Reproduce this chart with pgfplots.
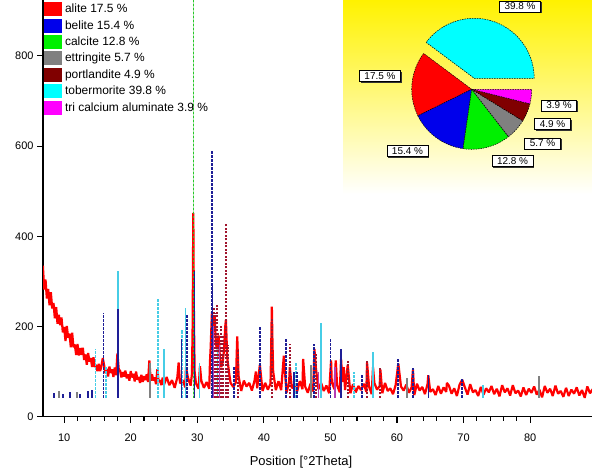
\documentclass[border=0pt]{standalone}
\usepackage{fontspec}
\setmainfont{Liberation Sans}
\usepackage{pgfplots}
\pgfplotsset{compat=1.18}
\usetikzlibrary{shadows}
\definecolor{ytop}{RGB}{255,242,0}
\definecolor{ymid}{RGB}{255,250,110}
\definecolor{navy}{RGB}{30,30,150}
\definecolor{stickcyan}{RGB}{70,205,230}
\definecolor{drk}{RGB}{160,20,45}
\definecolor{calcline}{RGB}{40,200,40}
\definecolor{calcpale}{RGB}{170,230,170}
\definecolor{pcyan}{RGB}{0,255,255}
\definecolor{pgreen}{RGB}{0,240,0}
\definecolor{pdark}{RGB}{128,0,0}
\definecolor{pmag}{RGB}{255,0,255}
\definecolor{pblue}{RGB}{0,0,235}
\definecolor{stickmag}{RGB}{180,60,180}
\begin{document}
\begin{tikzpicture}[x=1bp,y=1bp]
\useasboundingbox (0,0) rectangle (592,471);
\clip (0,0) rectangle (592,471);
\begin{axis}[
  at={(43bp,54.3bp)}, anchor=south west, scale only axis,
  width=549bp, height=416.7bp,
  xmin=6.82, xmax=89.3, ymin=0, ymax=924,
  axis x line*=bottom, axis y line*=left,
  axis line style={line width=1.6bp, black},
  xtick={10,20,30,40,50,60,70,80}, minor x tick num=4,
  ytick={0,200,400,600,800},
  tick align=outside, major tick length=6bp, minor tick length=4bp,
  tick style={black, line width=1.1bp},
  tick label style={font=\fontsize{11}{13}\selectfont},
  xticklabel style={yshift=-8bp},
  /pgf/number format/assume math mode=true,
  /pgf/number format/1000 sep={},
  xlabel={Position [°2Theta]},
  xlabel style={font=\fontsize{13}{15}\selectfont, at={(axis description cs:0.47,0)}, anchor=center, yshift=-45bp},
  unbounded coords=jump,
  legend style={at={(0,1)}, anchor=north west, xshift=1bp, yshift=-2bp, draw=none, fill=none,
    font=\fontsize{12}{14}\selectfont, inner sep=0pt, row sep=2.4bp, nodes={inner sep=0.4bp},
    /tikz/every odd column/.append style={column sep=2.5bp}},
  legend cell align=left,
  legend image code/.code={\fill[#1] (0bp,-7bp) rectangle (18bp,7bp);},
]
\addlegendimage{fill=red, draw=none}\addlegendentry{alite 17.5 \%}
\addlegendimage{fill=pblue, draw=none}\addlegendentry{belite 15.4 \%}
\addlegendimage{fill=pgreen, draw=none}\addlegendentry{calcite 12.8 \%}
\addlegendimage{fill=gray, draw=none}\addlegendentry{ettringite 5.7 \%}
\addlegendimage{fill=pdark, draw=none}\addlegendentry{portlandite 4.9 \%}
\addlegendimage{fill=pcyan, draw=none}\addlegendentry{tobermorite 39.8 \%}
\addlegendimage{fill=pmag, draw=none}\addlegendentry{tri calcium aluminate 3.9 \%}

% calcite main line (pale underlay)
\addplot[calcpale, line width=1.6bp, mark=none] coordinates {
(29.42,42) (29.42,924)
};

% measured pattern
\addplot[red, line width=2.2bp, mark=none, line join=bevel] coordinates {
(6.8,335) (7.0,282) (7.2,304) (7.4,262) (7.6,283) (7.8,247) (8.0,276) (8.2,240) (8.4,252) (8.6,218)
(8.8,243) (9.0,206) (9.2,226) (9.4,203) (9.6,220) (9.8,187) (10.0,199) (10.2,168) (10.4,201) (10.6,175)
(10.8,184) (11.0,154) (11.2,186) (11.4,154) (11.6,160) (11.8,137) (12.0,161) (12.2,136) (12.4,152) (12.6,137)
(12.8,153) (13.0,126) (13.2,138) (13.4,115) (13.6,141) (13.8,122) (14.0,130) (14.2,110) (14.4,132) (14.6,110)
(14.8,115) (15.0,101) (15.2,117) (15.4,101) (15.6,112) (15.8,130) (16.0,114) (16.2,96) (16.4,106) (16.6,89)
(16.8,111) (17.0,97) (17.2,105) (17.4,88) (17.6,109) (17.8,92) (18.0,140) (18.2,105) (18.4,102) (18.6,87)
(18.8,99) (19.0,89) (19.2,102) (19.4,85) (19.6,94) (19.8,80) (20.0,101) (20.2,87) (20.4,95) (20.6,78)
(20.8,100) (21.0,82) (21.2,88) (21.4,75) (21.6,93) (21.8,77) (22.0,90) (22.2,81) (22.4,94) (22.6,77)
(22.8,125) (23.0,80) (23.2,94) (23.4,80) (23.6,87) (23.8,72) (24.0,105) (24.2,77) (24.4,81) (24.6,70)
(24.8,87) (25.0,71)
(25.4,88) (25.8,70) (26.2,81) (26.6,64) (27.0,87) (27.2,120) (27.4,74) (27.8,81) (28.2,65) (28.3,110)
(28.6,86) (29.0,69) (29.2,95) (29.3,200) (29.4,452) (29.5,210) (29.6,100) (29.8,74) (30.2,62) (30.4,112)
(30.6,80) (31.0,64) (31.4,77) (31.8,62) (31.9,120) (32.0,150) (32.2,232) (32.3,180) (32.4,200) (32.6,225)
(32.8,160) (33.0,150) (33.2,180) (33.4,130) (33.6,110) (33.8,120) (34.0,145) (34.2,200) (34.3,215) (34.5,130)
(34.8,95) (35.0,75) (35.4,66) (35.8,76) (36.0,178) (36.2,90) (36.6,57) (37.0,80) (37.4,67) (37.8,75)
(38.2,58) (38.6,80) (38.8,100) (39.0,63) (39.4,115) (39.8,57) (40.2,75) (40.6,60) (41.0,73) (41.1,150)
(41.2,244) (41.3,160) (41.4,100) (41.8,59) (42.2,79) (42.6,59) (43.0,135) (43.4,53) (43.8,78) (43.9,110)
(44.2,63) (44.6,72) (45.0,56) (45.4,79) (45.8,61) (45.9,128) (46.2,67) (46.6,53) (47.0,73) (47.4,56)
(47.6,150) (47.8,110) (48.2,61) (48.6,75) (49.0,57) (49.4,69) (49.8,52) (50.1,125) (50.2,77) (50.6,61)
(50.8,125) (51.0,70) (51.4,54) (51.6,128) (51.8,77) (52.0,110) (52.2,59) (52.6,115) (53.0,52) (53.4,72)
(53.8,54) (54.2,68) (54.6,59) (55.0,73) (55.4,55) (55.5,120) (55.8,67) (56.2,50) (56.4,110) (56.6,75)
(57.0,60) (57.4,68) (57.5,105) (57.8,52) (58.2,75) (58.6,57) (59.0,63) (59.4,50) (59.8,70) (60.2,118)
(60.6,67) (61.0,58) (61.4,71) (61.8,53) (62.2,65) (62.4,105) (62.6,48) (63.0,73) (63.4,58) (63.8,66)
(64.2,50) (64.6,73) (64.7,92) (65.0,55) (65.4,61) (65.8,48) (66.2,68) (66.6,51) (67.0,65) (67.4,55)
(67.5,75) (67.8,69) (68.2,51) (68.6,63) (69.0,46) (69.4,71) (69.8,82) (70.2,65) (70.6,49) (71.0,72)
(71.4,54) (71.8,59) (72.2,46) (72.6,66) (73.0,49) (73.4,63) (73.8,54) (74.2,68) (74.6,50) (75.0,62)
(75.4,45) (75.8,70) (76.2,54) (76.6,63) (77.0,47) (77.4,70) (77.8,52) (78.2,58) (78.6,45) (79.0,65)
(79.4,48) (79.8,62) (80.2,53) (80.6,67) (81.0,49) (81.4,60) (81.8,43) (82.2,68) (82.6,53) (83.0,62)
(83.4,46) (83.8,69) (84.2,51) (84.6,57) (85.0,44) (85.4,64) (85.8,46) (86.2,60) (86.6,51) (87.0,65)
(87.4,47) (87.8,59) (88.2,42) (88.6,67) (89.0,52) (89.4,61)
};

% reference sticks: cyan
\addplot[stickcyan, line width=1.5bp, mark=none] coordinates {
(18.05,42) (18.05,324) (18.05,nan) (28.25,42) (28.25,240) (28.25,nan) (48.6,42) (48.6,207) (48.6,nan)
(56.4,42) (56.4,144) (56.4,nan) (25.0,42) (25.0,150) (25.0,nan) (33.0,42) (33.0,150) (33.0,nan)
(30.3,42) (30.3,120) (30.3,nan) (72.9,42) (72.9,70) (72.9,nan)
};
\addplot[stickcyan, line width=1.8bp, mark=none, dash pattern=on 2.5bp off 1.5bp] coordinates {
(14.7,42) (14.7,149) (14.7,nan) (24.1,42) (24.1,260) (24.1,nan) (27.7,42) (27.7,193) (27.7,nan)
(16.3,42) (16.3,110) (16.3,nan) (44.8,42) (44.8,120) (44.8,nan) (53.5,42) (53.5,100) (53.5,nan)
};
% navy
\addplot[navy, line width=1.5bp, mark=none] coordinates {
(18.1,42) (18.1,238) (18.1,nan) (29.55,42) (29.55,322) (29.55,nan) (32.3,42) (32.3,289) (32.3,nan)
(27.6,42) (27.6,173) (27.6,nan) (51.6,42) (51.6,150) (51.6,nan) (64.7,42) (64.7,93) (64.7,nan)
(44.5,42) (44.5,100) (44.5,nan)
(8.5,42) (8.5,52) (8.5,nan) (9.8,42) (9.8,50) (9.8,nan) (10.9,42) (10.9,54) (10.9,nan)
(12.4,42) (12.4,51) (12.4,nan) (13.6,42) (13.6,56) (13.6,nan) (14.2,42) (14.2,60) (14.2,nan)
};
\addplot[navy, line width=1.8bp, mark=none, dash pattern=on 2.5bp off 1.5bp] coordinates {
(15.9,42) (15.9,229) (15.9,nan) (28.4,42) (28.4,227) (28.4,nan) (32.15,42) (32.15,589) (32.15,nan)
(39.4,42) (39.4,200) (39.4,nan) (43.3,42) (43.3,173) (43.3,nan) (47.5,42) (47.5,162) (47.5,nan)
(50.0,42) (50.0,173) (50.0,nan) (60.2,42) (60.2,129) (60.2,nan) (62.4,42) (62.4,109) (62.4,nan)
(69.8,42) (69.8,84) (69.8,nan) (35.5,42) (35.5,110) (35.5,nan) (45.0,42) (45.0,100) (45.0,nan)
(54.8,42) (54.8,95) (54.8,nan)
};
% dark red (dotted)
\addplot[drk, line width=1.9bp, mark=none, dash pattern=on 2bp off 1.5bp] coordinates {
(34.25,42) (34.25,429) (34.25,nan) (32.7,42) (32.7,229) (32.7,nan) (33.1,42) (33.1,189) (33.1,nan)
(32.9,42) (32.9,250) (32.9,nan) (33.5,42) (33.5,200) (33.5,nan) (33.9,42) (33.9,180) (33.9,nan)
(34.6,42) (34.6,160) (34.6,nan) (32.5,42) (32.5,240) (32.5,nan) (41.25,42) (41.25,220) (41.25,nan)
(52.6,42) (52.6,124) (52.6,nan) (55.5,42) (55.5,127) (55.5,nan) (57.5,42) (57.5,111) (57.5,nan)
(36.1,42) (36.1,150) (36.1,nan) (43.9,42) (43.9,162) (43.9,nan) (47.8,42) (47.8,140) (47.8,nan)
};
% gray
\addplot[gray, line width=1.5bp, mark=none] coordinates {
(81.3,42) (81.3,91) (81.3,nan) (22.9,42) (22.9,120) (22.9,nan) (47.1,42) (47.1,115) (47.1,nan)
(61.5,42) (61.5,85) (61.5,nan) (9.2,42) (9.2,56) (9.2,nan) (11.9,42) (11.9,54) (11.9,nan)
};
% magenta
\addplot[stickmag, line width=1.5bp, mark=none] coordinates {
(32.45,42) (32.45,200) (32.45,nan) (33.3,42) (33.3,160) (33.3,nan) (48.2,42) (48.2,100) (48.2,nan)
(50.7,42) (50.7,110) (50.7,nan)
};
% calcite main line (dotted on top)
\addplot[calcline, line width=1.6bp, mark=none, dash pattern=on 2bp off 2bp] coordinates {
(29.42,42) (29.42,924)
};
\end{axis}

% inset background
\shade[top color=ytop, middle color=ymid, bottom color=white] (343,277) rectangle (592,471);

\begin{axis}[
  at={(471.7bp,381.7bp)}, anchor=center, scale only axis,
  width=120bp, height=120bp, xmin=-1, xmax=1, ymin=-1, ymax=1,
  hide axis, clip=false,
  every axis plot/.append style={draw=black, line width=0.5bp, dash pattern=on 1.5bp off 1bp, mark=none},
]
\addplot[data cs=polar, fill=pcyan, xshift=2.5bp, yshift=11bp] coordinates {
(0,0) (0,1) (5,1) (10,1) (15,1) (20,1) (25,1) (30,1) (35,1) (40,1) (45,1) (50,1) (55,1) (60,1) (65,1)
(70,1) (75,1) (80,1) (85,1) (90,1) (95,1) (100,1) (105,1) (110,1) (115,1) (120,1) (125,1) (130,1)
(135,1) (140,1) (143.28,1) (0,0)
};
\addplot[data cs=polar, fill=red] coordinates {
(0,0) (143.28,1) (145,1) (150,1) (155,1) (160,1) (165,1) (170,1) (175,1) (180,1) (185,1) (190,1)
(195,1) (200,1) (205,1) (206.28,1) (0,0)
};
\addplot[data cs=polar, fill=pblue] coordinates {
(0,0) (206.28,1) (210,1) (215,1) (220,1) (225,1) (230,1) (235,1) (240,1) (245,1) (250,1) (255,1)
(260,1) (261.72,1) (0,0)
};
\addplot[data cs=polar, fill=pgreen] coordinates {
(0,0) (261.72,1) (265,1) (270,1) (275,1) (280,1) (285,1) (290,1) (295,1) (300,1) (305,1) (307.8,1) (0,0)
};
\addplot[data cs=polar, fill=gray] coordinates {
(0,0) (307.8,1) (310,1) (315,1) (320,1) (325,1) (328.32,1) (0,0)
};
\addplot[data cs=polar, fill=pdark] coordinates {
(0,0) (328.32,1) (330,1) (335,1) (340,1) (345,1) (345.96,1) (0,0)
};
\addplot[data cs=polar, fill=pmag] coordinates {
(0,0) (345.96,1) (350,1) (355,1) (360,1) (0,0)
};
\end{axis}

\tikzset{lbl/.style={draw=black, line width=0.6bp, fill=white, inner xsep=5bp, inner ysep=2bp,
  font=\fontsize{10}{12}\selectfont,
  drop shadow={shadow xshift=1.3bp, shadow yshift=-1.3bp, fill=black!80, opacity=1}}}
\node[lbl] at (520,464.5) {39.8 \%};
\node[lbl] at (380,395) {17.5 \%};
\node[lbl] at (407.5,320) {15.4 \%};
\node[lbl] at (512.5,310) {12.8 \%};
\node[lbl] at (542.5,327.5) {5.7 \%};
\node[lbl] at (552.5,347) {4.9 \%};
\node[lbl] at (559,365.5) {3.9 \%};
\end{tikzpicture}
\end{document}
